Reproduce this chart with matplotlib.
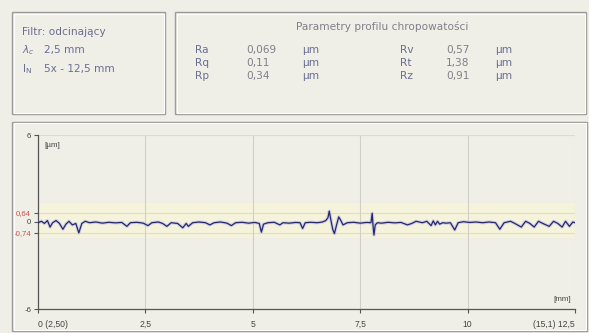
import matplotlib.pyplot as plt
from matplotlib.patches import Rectangle

W, H = 589, 333

# filter box
filter_labels = ["Filtr: odcinający", r"$\lambda_c$", r"$\mathregular{l_N}$"]
filter_values = ["", "2,5 mm", "5x - 12,5 mm"]

# roughness parameters
param_title = "Parametry profilu chropowatości"
params_left = ["Ra", "Rq", "Rp"]
values_left = ["0,069", "0,11", "0,34"]
params_right = ["Rv", "Rt", "Rz"]
values_right = ["0,57", "1,38", "0,91"]
unit = "µm"

# profile chart
x_ticks = [0, 2.5, 5, 7.5, 10, 12.5]
x_tick_labels = ["0 (2,50)", "2,5", "5", "7,5", "10", "(15,1) 12,5"]
y_ticks = [6, 0.64, 0, -0.74, -6]
y_tick_labels = ["6", "0,64", "0", "-0,74", "-6"]
y_tick_colors = ["#444444", "#d05050", "#444444", "#d05050", "#444444"]

profile = [
    (0.0, -0.05), (0.08, 0.05), (0.15, -0.1), (0.22, 0.1), (0.28, -0.35),
    (0.34, -0.05), (0.42, 0.1), (0.5, -0.1), (0.58, -0.5), (0.65, -0.15),
    (0.72, 0.05), (0.8, -0.2), (0.88, -0.1), (0.95, -0.75), (1.02, -0.1),
    (1.1, 0.05), (1.2, -0.05), (1.35, 0.0), (1.5, -0.08), (1.65, -0.02),
    (1.8, -0.06), (1.95, -0.03), (2.07, -0.3), (2.15, -0.05), (2.3, -0.02),
    (2.45, -0.08), (2.56, -0.25), (2.65, -0.05), (2.8, 0.0), (2.9, -0.1),
    (3.0, -0.3), (3.1, -0.05), (3.25, -0.1), (3.37, -0.4), (3.45, -0.1),
    (3.5, -0.3), (3.6, -0.05), (3.75, 0.0), (3.9, -0.05), (4.0, -0.2),
    (4.1, -0.05), (4.25, 0.0), (4.4, -0.08), (4.5, -0.25), (4.6, -0.05),
    (4.75, -0.02), (4.9, -0.08), (5.05, -0.03), (5.15, -0.1), (5.2, -0.7),
    (5.25, -0.15), (5.35, -0.05), (5.5, -0.02), (5.63, -0.2), (5.7, -0.05),
    (5.85, -0.08), (6.0, -0.03), (6.1, -0.05), (6.16, -0.45), (6.22, -0.05),
    (6.35, -0.02), (6.5, -0.05), (6.62, 0.0), (6.7, 0.1), (6.75, 0.3),
    (6.78, 0.75), (6.82, 0.1), (6.86, -0.5), (6.9, -0.8), (6.95, -0.2),
    (7.0, 0.35), (7.05, 0.1), (7.1, -0.2), (7.2, -0.05), (7.35, -0.02),
    (7.5, -0.08), (7.65, -0.03), (7.75, -0.05), (7.78, 0.6), (7.8, -0.3),
    (7.82, -0.9), (7.85, -0.2), (7.9, -0.05), (8.0, -0.08), (8.15, -0.02),
    (8.3, -0.06), (8.45, -0.03), (8.6, -0.2), (8.7, -0.1), (8.8, 0.05),
    (8.95, -0.05), (9.05, 0.05), (9.15, -0.25), (9.2, 0.08), (9.25, -0.2),
    (9.3, 0.05), (9.35, -0.15), (9.42, -0.05), (9.5, -0.08), (9.6, -0.05),
    (9.7, -0.55), (9.78, -0.05), (9.9, 0.02), (10.05, -0.03), (10.2, 0.0),
    (10.35, -0.05), (10.5, 0.0), (10.65, -0.05), (10.75, -0.5), (10.85, -0.05),
    (11.0, 0.05), (11.1, -0.1), (11.25, -0.35), (11.35, 0.05), (11.45, -0.1),
    (11.55, -0.35), (11.65, 0.05), (11.75, -0.1), (11.9, -0.3), (12.0, 0.05),
    (12.1, -0.1), (12.2, -0.35), (12.28, 0.05), (12.37, -0.3), (12.45, 0.0),
    (12.5, -0.05),
]
profile_x = [p[0] for p in profile]
profile_y = [p[1] for p in profile]

BG = "#efeee7"
LABEL = "#6a6f90"
VALUE = "#80808a"
FS = 7.6

plt.rcParams['font.family'] = ['DejaVu Sans']


def fx(px):
    return px / W


def fy(py):
    return 1 - py / H


def box(fig, x0, y0, x1, y1):
    # etched frame like a windows group box
    fig.patches.append(Rectangle((fx(x0), fy(y1)), fx(x1 - x0), (y1 - y0) / H,
                                 transform=fig.transFigure, fill=False,
                                 edgecolor="#9c9c98", lw=1.0))
    fig.patches.append(Rectangle((fx(x0 + 1.5), fy(y1 - 1.5)), fx(x1 - x0 - 3), (y1 - y0 - 3) / H,
                                 transform=fig.transFigure, fill=False,
                                 edgecolor="#ffffff", lw=0.8))


fig = plt.figure(figsize=(W / 100, H / 100), dpi=100, facecolor=BG)

box(fig, 12, 12, 165, 114)
box(fig, 175, 12, 586, 114)
box(fig, 12, 122, 587, 331)

# filter box text
fig.text(fx(22), fy(32), filter_labels[0], fontsize=FS, color=LABEL, va='center')
for i in (1, 2):
    yy = fy(32 + 18.5 * i)
    fig.text(fx(22), yy, filter_labels[i], fontsize=FS, color=LABEL, va='center')
    fig.text(fx(44), yy, filter_values[i], fontsize=FS, color=LABEL, va='center')

# parameters box text
fig.text(fx(382), fy(26), param_title, fontsize=FS, color=VALUE, ha='center', va='center')
for i in range(3):
    yy = fy(50 + 13 * i)
    fig.text(fx(195), yy, params_left[i], fontsize=FS, color=LABEL, va='center')
    fig.text(fx(246), yy, values_left[i], fontsize=FS, color=VALUE, va='center')
    fig.text(fx(302), yy, unit, fontsize=FS, color=LABEL, va='center')
    fig.text(fx(400), yy, params_right[i], fontsize=FS, color=LABEL, va='center')
    fig.text(fx(446), yy, values_right[i], fontsize=FS, color=VALUE, va='center')
    fig.text(fx(495), yy, unit, fontsize=FS, color=LABEL, va='center')

# profile plot
ax = fig.add_axes([fx(38), fy(309), fx(575 - 38), (309 - 135) / H])
ax.set_facecolor(BG)
ax.set_xlim(0, 12.5)
ax.set_ylim(-6, 6)

ax.axhspan(-1.0, 1.3, color="#f5f3dc", zorder=0)
ax.axhline(0.64, color="#e4e0b0", lw=0.8, zorder=1)
ax.axhline(-0.74, color="#e4e0b0", lw=0.8, zorder=1)
for xv in x_ticks[1:]:
    ax.axvline(xv, color="#d0d0c8", lw=0.8, zorder=1)
ax.axhline(6, color="#dcdcd4", lw=0.8, zorder=1)

ax.plot(profile_x, profile_y, color="#b4b4e4", lw=2.4, alpha=0.55, zorder=2)
ax.plot(profile_x, profile_y, color="#26266e", lw=0.9, zorder=3)

for side in ("top", "right"):
    ax.spines[side].set_visible(False)
for side in ("left", "bottom"):
    ax.spines[side].set_color("#555555")
    ax.spines[side].set_linewidth(0.9)

ax.set_xticks(x_ticks)
ax.set_xticklabels(x_tick_labels, family='Liberation Sans')
ax.set_yticks(y_ticks)
ax.set_yticklabels(y_tick_labels, family='Liberation Sans')
ax.tick_params(axis='both', length=3, width=0.8, color="#555555", pad=2)
ax.tick_params(axis='x', labelsize=6.2, pad=5)
ax.tick_params(axis='y', labelsize=5.6)
for lbl, col in zip(ax.get_yticklabels(), y_tick_colors):
    lbl.set_color(col)
xl = ax.get_xticklabels()
for lbl in xl:
    lbl.set_color("#444444")
xl[0].set_horizontalalignment('left')
xl[-1].set_horizontalalignment('right')

ax.text(0.15, 5.3, "[µm]", fontsize=5.8, color="#444444", va='center', family='Liberation Sans')
ax.text(12.4, -5.35, "[mm]", fontsize=5.8, color="#444444", ha='right', va='center', family='Liberation Sans')

fig.savefig("out.png", dpi=100, facecolor=BG)
